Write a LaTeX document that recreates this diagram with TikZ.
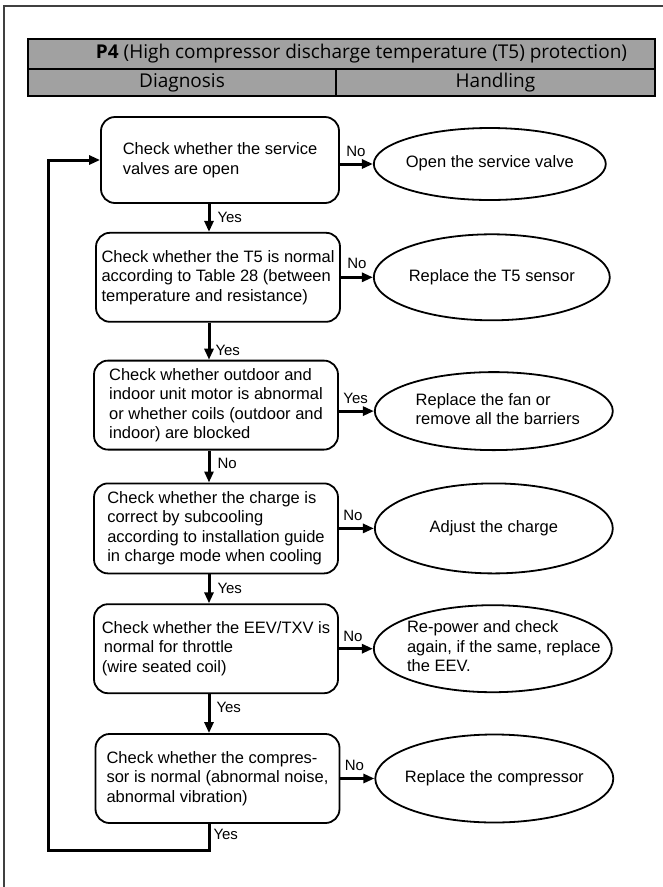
\documentclass[tikz,border=0pt]{standalone}
\usepackage{fontspec}
\setmainfont{Liberation Sans}
\newfontfamily\headfont{Open Sans}
\usetikzlibrary{shapes,arrows.meta,positioning}

% text inside an oval, without letting it widen the oval
\newcommand{\ovaltext}[2][0pt]{\smash{\makebox[0pt]{\hspace*{#1}\raisebox{-0.25em}{\begin{tabular}{@{}l@{}}#2\end{tabular}}}}}

\begin{document}
\begin{tikzpicture}[
    x=1pt, y=-1pt,
    node distance=30pt,
    block/.style={rectangle, rounded corners=14pt, draw=black, line width=1.8pt, minimum width=244pt, minimum height=89pt, align=left, inner xsep=3pt, font=\fontsize{16.5}{19.5}\selectfont},
    oval/.style={ellipse, draw=black, line width=1.8pt, minimum width=238pt, minimum height=86pt, inner sep=0pt, font=\fontsize{16.5}{19.5}\selectfont},
    head/.style={rectangle, draw=black, line width=2pt, fill=black!37, inner sep=0pt, font=\headfont\fontsize{19}{21}\selectfont},
    arrow/.style={-{Triangle[length=11pt,width=9pt]}, line width=3pt},
    arrlab/.style={font=\fontsize{15}{17}\selectfont, inner sep=1pt},
]
    \useasboundingbox (0,0) rectangle (663,887);

    % --- Frame ---
    \draw[line width=1.3pt, black!75] (663,6) -| (4,887);

    % --- Header table ---
    \node[head, minimum width=627pt, minimum height=30pt] (title) at (341.5,54)
        {\hspace*{40pt}\textbf{P4} (High compressor discharge temperature (T5) protection)};
    \node[head, minimum width=308pt, minimum height=27pt] (diag) at (182,82.5) {Diagnosis};
    \node[head, minimum width=319pt, minimum height=27pt] (hand) at (495.5,82.5) {Handling};

    % --- Diagnosis column ---
    \node[block, minimum width=238pt, minimum height=86pt] (chkvalve) at (220,160)
        {Check whether the service\\valves are open};
    \node[block, below=28pt of chkvalve, xshift=-2pt] (chktfive)
        {Check whether the T5 is normal\\according to Table 28 (between\\temperature and resistance)};
    \node[block, below=37pt of chktfive, xshift=-2pt] (chkfan)
        {Check whether outdoor and\\indoor unit motor is abnormal\\or whether coils (outdoor and\\indoor) are blocked};
    \node[block, below=32pt of chkfan, minimum height=90pt] (chkcharge)
        {Check whether the charge is\\correct by subcooling\\according to installation guide\\in charge mode when cooling};
    \node[block, below=29pt of chkcharge] (chkeev)
        {Check whether the EEV/TXV is\\\hspace*{2pt}normal for throttle\\(wire seated coil)};
    \node[block, below=39pt of chkeev, xshift=1.5pt] (chkcomp)
        {Check whether the compres-\\sor is normal (abnormal noise,\\abnormal vibration)};

    % --- Handling column ---
    \node[oval, right=33pt of chkvalve, yshift=-4pt, minimum width=232pt, minimum height=72pt] (openvalve)
        {\ovaltext{Open the service valve}};
    \node[oval, right=32pt of chktfive, minimum width=236pt] (repsensor)
        {\ovaltext{Replace the T5 sensor}};
    \node[oval, right=35pt of chkfan, yshift=-6pt, minimum height=78pt] (repfan)
        {\ovaltext[8pt]{Replace the fan or\\remove all the barriers}};
    \node[oval, right=35pt of chkcharge, minimum height=90pt] (adjcharge)
        {\ovaltext{Adjust the charge}};
    \node[oval, right=34pt of chkeev, minimum height=87pt] (repeev)
        {\ovaltext[22pt]{Re-power and check\\again, if the same, replace\\the EEV.}};
    \node[oval, right=34pt of chkcomp, minimum height=88pt] (repcomp)
        {\ovaltext{Replace the compressor}};

    \coordinate (spine) at (209,0);
    \coordinate (loop) at (48,850);

    % --- Arrows down ---
    \draw[arrow] (chkvalve.south -| spine) -- (chktfive.north -| spine)
        node[arrlab, midway, right, xshift=6pt] {Yes};
    \draw[arrow] (chktfive.south -| spine) -- (chkfan.north -| spine)
        node[arrlab, pos=0.75, right, xshift=4pt] {Yes};
    \draw[arrow] (chkfan.south -| spine) -- (chkcharge.north -| spine)
        node[arrlab, pos=0.4, right, xshift=6pt] {No};
    \draw[arrow] (chkcharge.south -| spine) -- (chkeev.north -| spine)
        node[arrlab, midway, right, xshift=6pt] {Yes};
    \draw[arrow] (chkeev.south -| spine) -- (chkcomp.north -| spine)
        node[arrlab, pos=0.35, right, xshift=5pt] {Yes};

    % --- Arrows right ---
    \draw[arrow] (openvalve.west -| chkvalve.east) -- (openvalve.west)
        node[arrlab, pos=0, above right, xshift=4pt, yshift=5pt] {No};
    \draw[arrow] (repsensor.west -| chktfive.east) -- (repsensor.west)
        node[arrlab, pos=0, above right, xshift=4pt, yshift=6pt] {No};
    \draw[arrow] (repfan.west -| chkfan.east) -- (repfan.west)
        node[arrlab, pos=0, above right, xshift=2pt, yshift=5pt] {Yes};
    \draw[arrow] (adjcharge.west -| chkcharge.east) -- (adjcharge.west)
        node[arrlab, pos=0, above right, xshift=2pt, yshift=5pt] {No};
    \draw[arrow] (repeev.west -| chkeev.east) -- (repeev.west)
        node[arrlab, pos=0, above right, xshift=2pt, yshift=5pt] {No};
    \draw[arrow] (repcomp.west -| chkcomp.east) -- (repcomp.west)
        node[arrlab, pos=0, above right, xshift=2pt, yshift=5pt] {No};

    % --- Loop back ---
    \draw[arrow] (chkcomp.south -| spine) |- (loop)
        node[arrlab, pos=0.2, right, xshift=2pt] {Yes}
        |- (chkvalve.west);

\end{tikzpicture}
\end{document}
